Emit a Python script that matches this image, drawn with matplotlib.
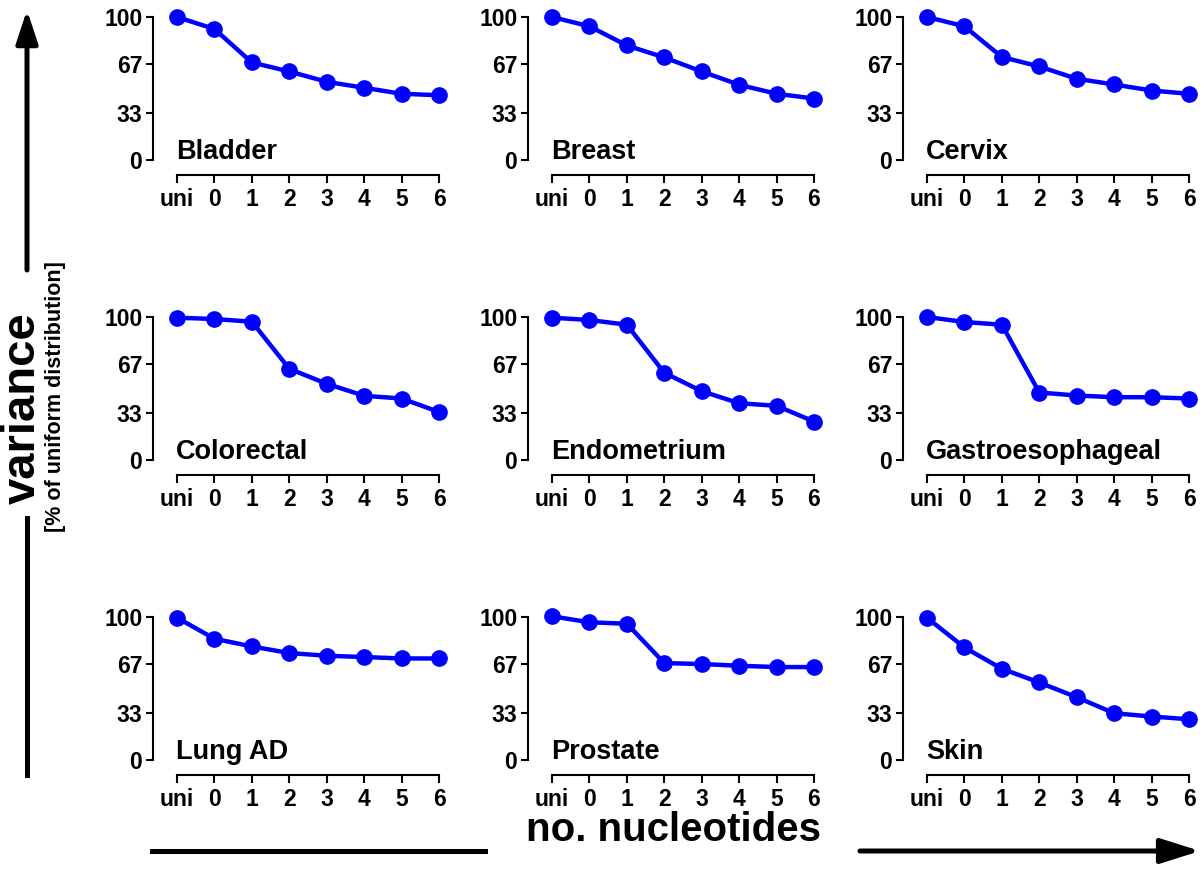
import matplotlib
matplotlib.use("Agg")
import matplotlib.pyplot as plt
from matplotlib.patches import FancyArrowPatch

plt.rcParams["font.family"] = ["Liberation Sans", "DejaVu Sans"]
plt.rcParams["font.weight"] = "bold"

X_LABELS = ["uni", "0", "1", "2", "3", "4", "5", "6"]
Y_TICKS = [0, 33, 67, 100]

TISSUES = [
    "Bladder", "Breast", "Cervix",
    "Colorectal", "Endometrium", "Gastroesophageal",
    "Lung AD", "Prostate", "Skin",
]

bladder = [100, 91.6, 68.2, 61.9, 54.7, 50.5, 46.3, 45.3]
breast = [100, 93.5, 80.1, 71.7, 61.9, 52.6, 46.3, 43.0]
cervix = [100, 93.5, 72.0, 65.4, 56.8, 52.8, 48.6, 46.3]
colorectal = [99.5, 98.6, 96.7, 63.8, 53.3, 44.9, 43.0, 33.6]
endometrium = [99.5, 97.9, 94.6, 61.0, 48.1, 39.7, 37.9, 26.9]
gastro = [100, 96.5, 94.6, 47.2, 45.1, 43.9, 43.9, 43.0]
lung_ad = [99.5, 84.8, 79.4, 74.8, 72.9, 72.0, 71.0, 71.0]
prostate = [100.5, 96.3, 95.3, 67.8, 67.1, 65.9, 65.0, 65.0]
skin = [99.5, 78.7, 63.8, 54.2, 43.9, 32.7, 30.4, 28.5]

VALUES = [bladder, breast, cervix, colorectal, endometrium, gastro,
          lung_ad, prostate, skin]

W, H = 1204, 869
fig = plt.figure(figsize=(W / 100, H / 100), dpi=100)

col_left = [177, 552, 927]
row_zero = [160, 460, 760]
ax_w, ax_h = 262, 143

for i, (name, vals) in enumerate(zip(TISSUES, VALUES)):
    r, c = divmod(i, 3)
    ax = fig.add_axes([col_left[c] / W, 1 - row_zero[r] / H, ax_w / W, ax_h / H])
    xs = list(range(len(X_LABELS)))
    ax.plot(xs, vals, color="#0000ff", lw=3.2, marker="o", ms=11,
            clip_on=False, zorder=3)
    ax.set_xlim(0, 7)
    ax.set_ylim(0, 100)
    ax.set_xticks(xs)
    ax.set_xticklabels(X_LABELS)
    ax.set_yticks(Y_TICKS)
    for s in ["top", "right"]:
        ax.spines[s].set_visible(False)
    ax.spines["left"].set_position(("outward", 17))
    ax.spines["bottom"].set_position(("outward", 10.5))
    ax.spines["left"].set_linewidth(1.5)
    ax.spines["bottom"].set_linewidth(1.5)
    ax.tick_params(axis="y", length=5, width=1.5, pad=3, labelsize=16.5)
    ax.tick_params(axis="x", length=6, width=1.5, pad=3.5, labelsize=16.5)
    for lab in ax.get_xticklabels() + ax.get_yticklabels():
        lab.set_fontweight("bold")
    ax.patch.set_visible(False)
    ax.text(-0.02, 1, name, fontsize=19.5, fontweight="bold", ha="left",
            va="baseline")


def px(x, y):
    return (x / W, 1 - y / H)


# left vertical arrow
fig.add_artist(plt.Line2D([27 / W, 27 / W], [1 - 518 / H, 1 - 775 / H],
                          color="black", lw=3.6, transform=fig.transFigure))
fig.add_artist(FancyArrowPatch(
    px(27, 270), px(27, 10), transform=fig.transFigure,
    arrowstyle="-|>,head_length=10,head_width=3.3", lw=3.6, color="black",
    mutation_scale=2.0, shrinkA=0, shrinkB=0))

# bottom horizontal arrow
fig.add_artist(plt.Line2D([152 / W, 485 / W], [1 - 851 / H, 1 - 851 / H],
                          color="black", lw=3.6, transform=fig.transFigure))
fig.add_artist(FancyArrowPatch(
    px(860, 851), px(1200, 851), transform=fig.transFigure,
    arrowstyle="-|>,head_length=12,head_width=3.8", lw=3.6, color="black",
    mutation_scale=2.0, shrinkA=0, shrinkB=0))

fig.text(674 / W, 1 - 830 / H, "no. nucleotides", fontsize=29,
         fontweight="bold", ha="center", va="center")
fig.text(23 / W, 1 - 408 / H, "variance", fontsize=34, fontweight="bold",
         rotation=90, ha="center", va="center")
fig.text(55 / W, 1 - 397 / H, "[% of uniform distribution]", fontsize=15.5,
         fontweight="bold", rotation=90, ha="center", va="center")

fig.savefig("out.png", dpi=100)
